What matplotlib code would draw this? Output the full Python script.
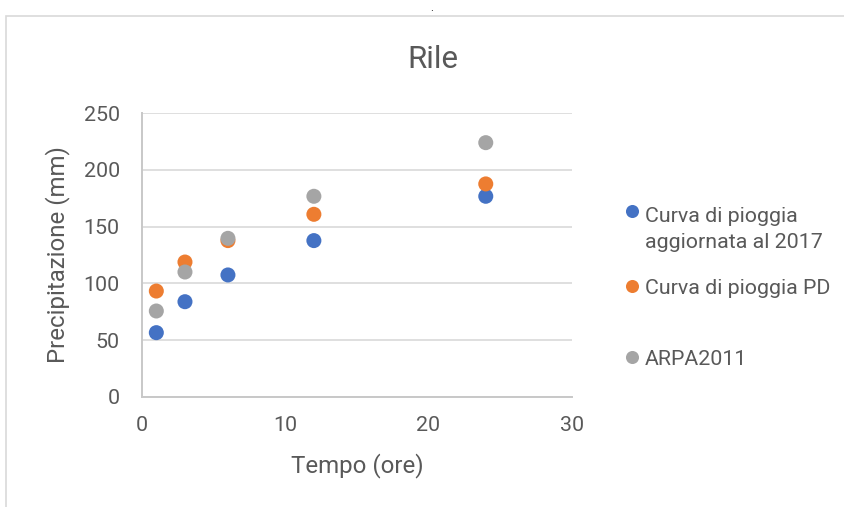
import matplotlib.pyplot as plt
from matplotlib.lines import Line2D
from matplotlib.patches import Rectangle

# dati
tempo = [1, 3, 6, 12, 24]
aggiornata_2017 = [56.5, 83.8, 107.4, 137.7, 176.8]
pioggia_pd = [93.2, 118.8, 137.7, 160.9, 187.7]
arpa_2011 = [75.6, 110.0, 139.7, 176.8, 224.1]

serie = ["Curva di pioggia\naggiornata al 2017", "Curva di pioggia PD", "ARPA2011"]
valori = [aggiornata_2017, pioggia_pd, arpa_2011]
colori = ["#4472C4", "#ED7D31", "#A5A5A5"]

x_ticks = [0, 10, 20, 30]
y_ticks = [0, 50, 100, 150, 200, 250]

plt.rcParams['font.family'] = ['Roboto', 'DejaVu Sans']
testo = "#595959"
W, H = 845, 507

fig = plt.figure(figsize=(W / 100, H / 100), dpi=100)

# bordo dell'area del grafico (tagliato a destra e in basso)
fig.add_artist(Rectangle((6 / W, -0.5), 2, 1.5 - 15.5 / H, transform=fig.transFigure,
                         fill=False, edgecolor="#D9D9D9", linewidth=1.2))
fig.text(432 / W, 1 - 11 / H, ".", ha="center", va="baseline", fontsize=8, color="black")

ax = fig.add_axes([142 / W, 1 - 396.7 / H, (571.7 - 142) / W, (396.7 - 113.3) / H])

for nome, v, c in zip(serie, valori, colori):
    ax.scatter(tempo, v, s=117, color=c, edgecolors="none", zorder=3, clip_on=False)

ax.set_xlim(0, 30)
ax.set_ylim(0, 250)
ax.set_xticks(x_ticks)
ax.set_yticks(y_ticks)
ax.grid(axis="y", color="#D9D9D9", linewidth=1.2)
ax.set_axisbelow(True)
for s in ["top", "right"]:
    ax.spines[s].set_visible(False)
for s in ["left", "bottom"]:
    ax.spines[s].set_color("#C8C8C8")
    ax.spines[s].set_linewidth(1.4)
ax.tick_params(length=0, labelsize=15.4, labelcolor=testo)
ax.tick_params(axis="y", pad=16)
ax.tick_params(axis="x", pad=14)

ax.set_xlabel("Tempo (ore)", fontsize=17.3, color=testo, labelpad=13)
ax.set_ylabel("Precipitazione (mm)", fontsize=17.3, color=testo, labelpad=10)
fig.text(433 / W, 1 - 59 / H, "Rile", ha="center", va="center", fontsize=22.5, color=testo)

# legenda costruita a mano
leg_y = [211, 286, 357]
passo = 29  # distanza fra le righe di una voce su due righe
for nome, c, y in zip(serie, colori, leg_y):
    fig.add_artist(Line2D([632 / W], [1 - y / H], marker="o", markersize=9.4, color=c,
                          markeredgewidth=0, linestyle="none", transform=fig.transFigure))
    righe = nome.count("\n")
    fig.text(645 / W, 1 - (y + 8 + righe * passo) / H, nome, ha="left", va="baseline",
             fontsize=15.4, color=testo, linespacing=1.5)

fig.savefig("out.png", dpi=100)
